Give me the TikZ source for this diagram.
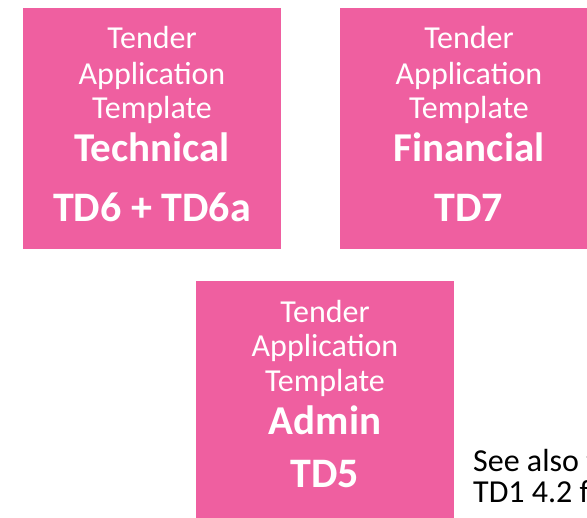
\documentclass[tikz,border=0pt]{standalone}
\usepackage{fontspec}
\setmainfont{Carlito}
\definecolor{tpink}{RGB}{239,95,160}
\begin{document}
\begin{tikzpicture}[x=1pt,y=-1pt,
  pinkbox/.style={fill=tpink, draw=none, minimum width=258pt, minimum height=241pt, anchor=north west, inner sep=0pt},
  reg/.style={anchor=base, text=white, inner sep=0pt, font=\fontsize{32}{36}\selectfont},
  bigb/.style={anchor=base, text=white, inner sep=0pt, font=\fontsize{41}{46}\selectfont\bfseries},
  bigc/.style={anchor=base, text=white, inner sep=0pt, font=\fontsize{42}{48}\selectfont\bfseries},
  note/.style={anchor=base west, text=black, inner sep=0pt, font=\fontsize{32}{36}\selectfont}]
\useasboundingbox (0,0) rectangle (587,518);
% box 1
\node[pinkbox] (b1) at (23,8) {};
\node[reg] (b1l1) at (152,49) {Tender};
\node[reg] (b1l2) at (152,85) {Application};
\node[reg] (b1l3) at (152,119) {Template};
\node[bigb] (b1l4) at (152,162) {Technical};
\node[bigc] (b1l5) at (152,222) {TD6 + TD6a};
% box 2
\node[pinkbox] (b2) at (340,8) {};
\node[reg] (b2l1) at (469,49) {Tender};
\node[reg] (b2l2) at (469,85) {Application};
\node[reg] (b2l3) at (469,119) {Template};
\node[bigb] (b2l4) at (469,162) {Financial};
\node[bigc] (b2l5) at (469,222) {TD7};
% box 3
\node[pinkbox] (b3) at (196,281) {};
\node[reg] (b3l1) at (325,323) {Tender};
\node[reg] (b3l2) at (325,357) {Application};
\node[reg] (b3l3) at (325,392) {Template};
\node[bigb] (b3l4) at (325,435) {Admin};
\node[bigc] (b3l5) at (325,488) {TD5};
% note
\node[note] (n1) at (473,472) {See also t};
\node[note] (n2) at (473,503) {TD1 4.2 f};
\end{tikzpicture}
\end{document}
